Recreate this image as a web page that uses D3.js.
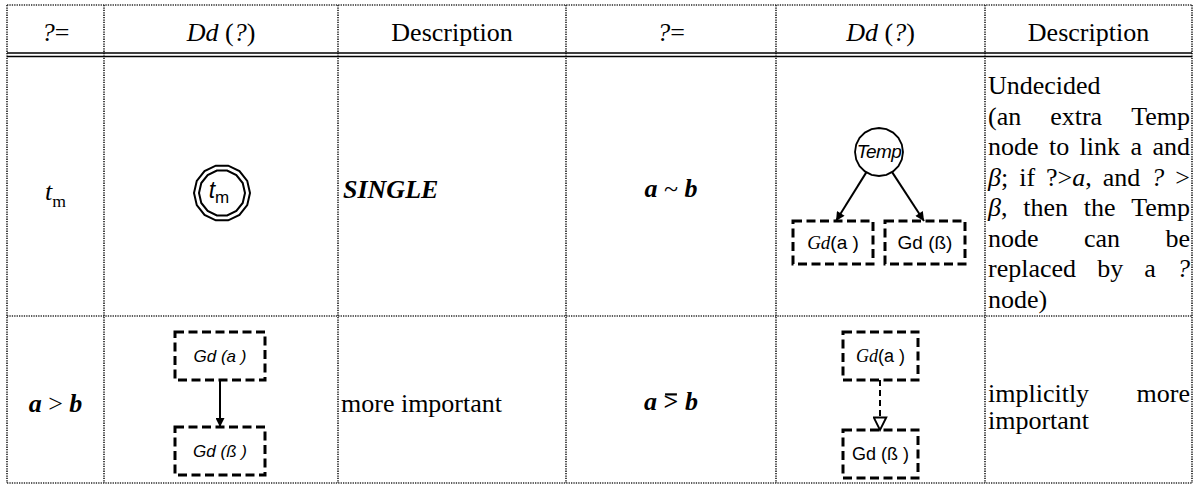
<!DOCTYPE html>
<html><head><meta charset="utf-8">
<script src="https://cdn.jsdelivr.net/npm/d3@7"></script>
<style>body{margin:0;background:#fff}svg{display:block}</style>
</head><body><svg id="c" width="1195" height="485"></svg>
<script>
// ---------- data ----------
const headerLabels = ["{i:?}=", "{i:Dd} ({i:?})", "Description", "{i:?}=", "{i:Dd} ({i:?})", "Description"];
const relationLabels = ["{i:t}{sub:m}", "{bi:a} ~ {bi:b}", "{bi:a} > {bi:b}", "{bi:a} {bov:>} {bi:b}"];
const singleDesc = ["{bi:SINGLE}"];
const undecidedDesc = ["Undecided", "(an extra Temp", "node to link a and", "{i:β}; if ?>{i:a}, and {i:?} >",
  "{i:β}, then the Temp", "node can be", "replaced by a {i:?}", "node)"];
const moreDesc = ["more important"];
const implicitDesc = ["implicitly more", "important"];
const singleNode = ["t", "m"];
const tempNode = ["Temp"];
const undecidedBoxes = ["{ti:Gd}{s:(a )}", "{s:Gd (ß)}"];
const explicitBoxes = ["{si:Gd (a )}", "{si:Gd (ß )}"];
const implicitBoxes = ["{ti:Gd}{s:(a )}", "{s:Gd (ß )}"];

// ---------- layout ----------
const colEdges = [7, 104, 338, 566, 776, 985, 1192];
const rowEdges = [5, 53, 316, 483];
const SERIF = "'Liberation Serif','Times New Roman',serif";
const SANS = "'Liberation Sans',Arial,sans-serif";
const FS = 26;

const svg = d3.select("#c");
const colX = d3.scaleOrdinal().domain(d3.range(7)).range(colEdges);
const colC = i => (colX(i) + colX(i + 1)) / 2;

const defs = svg.append("defs");
defs.append("marker").attr("id", "arrowFill").attr("viewBox", "0 0 10 10")
  .attr("refX", 10).attr("refY", 5).attr("markerUnits", "userSpaceOnUse")
  .attr("markerWidth", 11).attr("markerHeight", 9).attr("orient", "auto")
  .append("path").attr("d", "M0,0L10,5L0,10Z").attr("fill", "#000");
defs.append("marker").attr("id", "arrowHollow").attr("viewBox", "-1 -1 12 12")
  .attr("refX", 10).attr("refY", 5).attr("markerUnits", "userSpaceOnUse")
  .attr("markerWidth", 16).attr("markerHeight", 15).attr("orient", "auto")
  .append("path").attr("d", "M0,0L10,5L0,10Z").attr("fill", "#fff")
  .attr("stroke", "#000").attr("stroke-width", 1.5);

// ---------- rich text helper ----------
const overbars = [];
function rich(text, markup, size) {
  const re = /\{(\w+):([^}]*)\}|([^{]+)/g;
  let m;
  while ((m = re.exec(markup))) {
    const t = text.append("tspan");
    if (m[3] !== undefined) { t.text(m[3]); continue; }
    const k = m[1];
    t.text(m[2]);
    if (k === "i" || k === "ti") t.attr("font-style", "italic");
    if (k === "bi") t.attr("font-style", "italic").attr("font-weight", "bold");
    if (k === "bov") { t.attr("font-weight", "bold"); overbars.push({t, size}); }
    if (k === "s") t.attr("font-family", SANS);
    if (k === "si") t.attr("font-family", SANS).attr("font-style", "italic");
    if (k === "sub") t.attr("dy", size * 0.28).attr("font-size", size * 0.68).attr("font-style", "normal");
  }
  return text;
}
function label(g, markup, x, y, opts = {}) {
  const size = opts.size || FS;
  const t = g.append("text").attr("x", x).attr("y", y)
    .attr("font-family", opts.family || SERIF).attr("font-size", size)
    .attr("text-anchor", opts.anchor || "middle").attr("fill", "#000");
  return rich(t, markup, size);
}
// paragraph with justification
function paragraph(g, lines, x0, x1, y0, lh, justify) {
  lines.forEach((ln, li) => {
    const y = y0 + li * lh;
    const words = ln.split(" ");
    const nodes = words.map(w => label(g, w, 0, y, {anchor: "start"}));
    const widths = nodes.map(n => n.node().getComputedTextLength());
    const space = FS * 0.25;
    const total = d3.sum(widths);
    const gap = (justify[li] && words.length > 1) ? (x1 - x0 - total) / (words.length - 1) : space;
    let cx = x0;
    nodes.forEach((n, i) => { n.attr("x", cx); cx += widths[i] + gap; });
  });
}

// ---------- grid ----------
const grid = svg.append("g").attr("stroke", "#2a2a2a").attr("fill", "none");
grid.selectAll("line.v").data(colEdges).join("line").attr("class", "v")
  .attr("x1", d => d).attr("x2", d => d).attr("y1", rowEdges[0]).attr("y2", rowEdges[3])
  .attr("stroke-width", 1.7).attr("stroke-dasharray", "1.3 1.1");
grid.selectAll("line.h").data([rowEdges[0], rowEdges[2], rowEdges[3]]).join("line").attr("class", "h")
  .attr("x1", colEdges[0]).attr("x2", colEdges[6]).attr("y1", d => d).attr("y2", d => d)
  .attr("stroke-width", 1.4).attr("stroke-dasharray", "1.3 1.1");
grid.selectAll("line.d").data([rowEdges[1], rowEdges[1] + 3.5]).join("line").attr("class", "d")
  .attr("x1", colEdges[0]).attr("x2", colEdges[6]).attr("y1", d => d).attr("y2", d => d)
  .attr("stroke", "#000").attr("stroke-width", 1.6);

// ---------- header ----------
const txt = svg.append("g");
headerLabels.forEach((h, i) => label(txt, h, colC(i), 41));

// ---------- relation column ----------
label(txt, relationLabels[0], colC(0), 200);
label(txt, relationLabels[1], colC(3), 197);
label(txt, relationLabels[2], colC(0), 412);
label(txt, relationLabels[3], colC(3), 410);

// ---------- descriptions ----------
label(txt, singleDesc[0], colX(2) + 5, 198, {anchor: "start"});
label(txt, moreDesc[0], colX(2) + 3, 412, {anchor: "start"});
paragraph(txt, undecidedDesc, colX(5) + 3, colX(6) - 2, 94, 30.5, [0, 1, 1, 1, 1, 1, 1, 0]);
paragraph(txt, implicitDesc, colX(5) + 3, colX(6) - 2, 402, 27, [1, 0]);

// overbars for "implicitly greater" symbol
overbars.forEach(({t, size}) => {
  const b = t.node().getBBox();
  const y = +t.node().parentNode.getAttribute("y");
  txt.append("line").attr("x1", b.x + 1.5).attr("x2", b.x + b.width - 1.5)
    .attr("y1", y - size * 0.6).attr("y2", y - size * 0.6)
    .attr("stroke", "#000").attr("stroke-width", 2.2);
});

// ---------- diagrams ----------
const dg = svg.append("g").attr("fill", "none").attr("stroke", "#000");
const poly = (cx, cy, r, n) => d3.range(n).map(k => [cx + r * Math.cos(2 * Math.PI * k / n), cy + r * Math.sin(2 * Math.PI * k / n)]);
const closed = d3.line().curve(d3.curveLinearClosed);
const sn = {cx: colC(1) + 1, cy: 193};
[28, 23].forEach(r => dg.append("path").attr("d", closed(poly(sn.cx, sn.cy, r, 14))).attr("stroke-width", 2));
const tn = txt.append("text").attr("x", sn.cx - 3).attr("y", 198).attr("text-anchor", "middle")
  .attr("font-family", SANS).attr("font-size", 23);
tn.append("tspan").attr("font-style", "italic").text(singleNode[0]);
tn.append("tspan").attr("dy", 5).attr("font-size", 17).text(singleNode[1]);

function box(cx, cy, w, h, markup, size) {
  dg.append("rect").attr("x", cx - w / 2).attr("y", cy - h / 2).attr("width", w).attr("height", h)
    .attr("stroke-width", 3).attr("stroke-dasharray", "9 4.5");
  label(txt, markup, cx, cy + size * 0.35, {size: size});
  return {top: cy - h / 2, bottom: cy + h / 2};
}

// undecided: Temp node + two boxes
const tp = {cx: colC(4) - 1.5, cy: 152, r: 24};
dg.append("path").attr("d", closed(poly(tp.cx, tp.cy, tp.r, 20))).attr("stroke-width", 1.8);
txt.append("text").attr("x", tp.cx).attr("y", 158).attr("text-anchor", "middle")
  .attr("font-family", SANS).attr("font-style", "italic").attr("font-size", 19).attr("letter-spacing", -0.6).text(tempNode[0]);
const ub = [ {cx: 833, cy: 242.5}, {cx: 925, cy: 242.5} ];
ub.forEach((b, i) => {
  const r = box(b.cx, b.cy, 80, 43, undecidedBoxes[i], 19);
  const tx = b.cx + (i === 0 ? 3 : -1), ty = r.top;
  const dx = tx - tp.cx, dy = ty - tp.cy, L = Math.hypot(dx, dy);
  dg.append("line").attr("x1", tp.cx + dx / L * tp.r).attr("y1", tp.cy + dy / L * tp.r)
    .attr("x2", tx).attr("y2", ty).attr("stroke-width", 2).attr("marker-end", "url(#arrowFill)");
});

// explicit: two boxes with solid arrow
const e1 = box(colC(1) - 1, 356, 90, 48, explicitBoxes[0], 17);
const e2 = box(colC(1) - 1, 451, 90, 48, explicitBoxes[1], 17);
dg.append("line").attr("x1", colC(1) - 1).attr("x2", colC(1) - 1).attr("y1", e1.bottom).attr("y2", e2.top)
  .attr("stroke-width", 2).attr("marker-end", "url(#arrowFill)");

// implicit: two boxes with dashed hollow arrow
const i1 = box(colC(4), 356, 75, 48, implicitBoxes[0], 18);
const i2 = box(colC(4), 454, 75, 48, implicitBoxes[1], 18);
dg.append("line").attr("x1", colC(4) - 0.5).attr("x2", colC(4) - 0.5).attr("y1", i1.bottom).attr("y2", i2.top)
  .attr("stroke-width", 2).attr("stroke-dasharray", "6 4").attr("marker-end", "url(#arrowHollow)");
</script></body></html>
